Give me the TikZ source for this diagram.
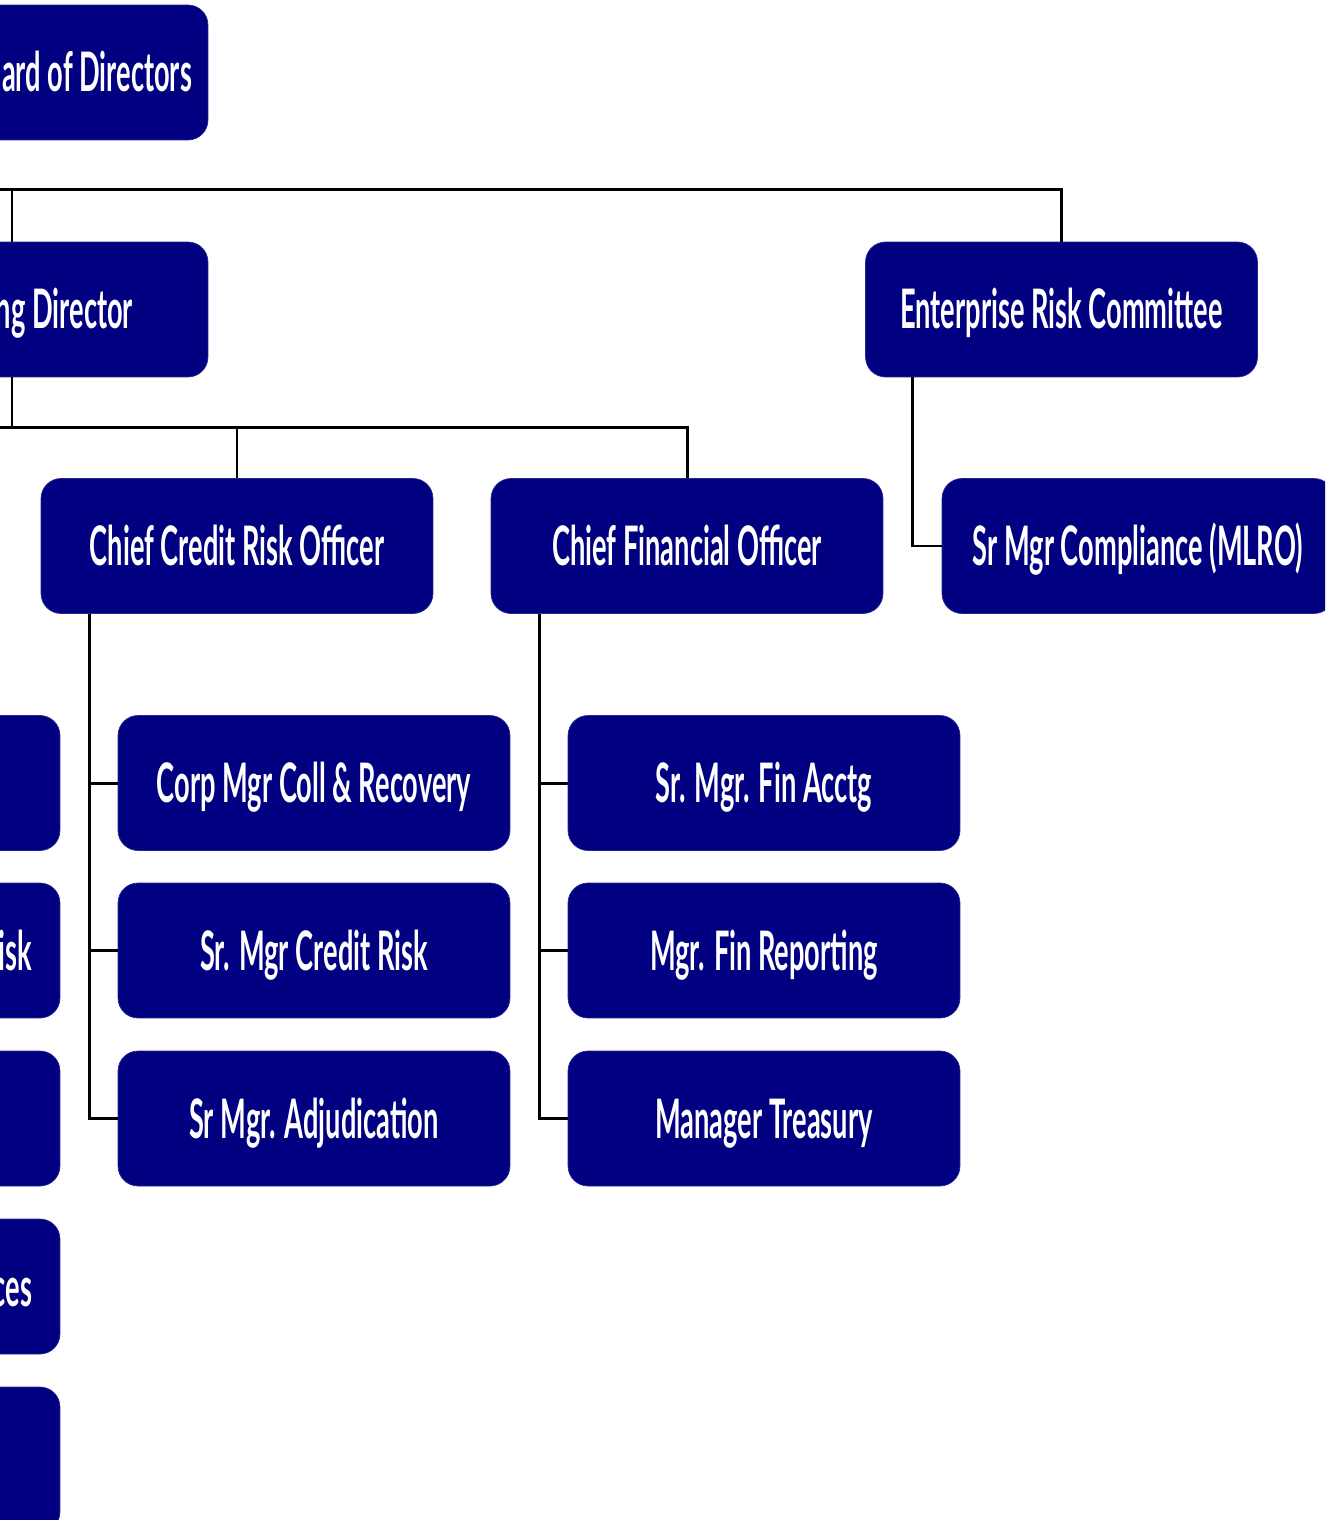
\documentclass[tikz,border=0pt]{standalone}
\usepackage{fontspec}
\newfontfamily\postfont{Lato}[FakeStretch=0.5]
\definecolor{navy}{HTML}{000080}

\begin{document}
\begin{tikzpicture}[x=0.02cm, y=-0.02cm,
  post/.style={fill=navy, draw=navy!85!white, line width=0.4pt, rounded corners=0.4cm,
    minimum width=7.84cm, minimum height=2.7cm, inner sep=0pt, text=white,
    text height=0.78cm, text depth=0pt,
    font=\postfont\bfseries\fontsize{31}{36}\selectfont},
  link/.style={line width=1.7pt, black}]

  \useasboundingbox (0,0) rectangle (1325,1520);
  \clip (0,0) rectangle (1325,1520);

  % top levels
  \node[post] (board) at (12,72.5) {\makebox[7.2cm][r]{ard of Directors}};
  \node[post] (md) at (12,309.5) {\makebox[4.84cm][r]{ng Director}};
  \node[post] (erc) at (1061.5,309.5) {Enterprise Risk Committee};

  \node[post] (ccro) at (237,546) {Chief Credit Risk Officer};
  \node[post] (cfo) at (687,546) {Chief Financial Officer};
  \node[post] (mlro) at (1138,546) {Sr Mgr Compliance (MLRO)};

  % reports
  \node[post] (coll) at (314,783) {Corp Mgr Coll \& Recovery};
  \node[post] (credit) at (314,950.5) {Sr. Mgr Credit Risk};
  \node[post] (adj) at (314,1118.5) {Sr Mgr. Adjudication};

  \node[post] (acctg) at (764,783) {Sr. Mgr. Fin Acctg};
  \node[post] (report) at (764,950.5) {Mgr. Fin Reporting};
  \node[post] (treas) at (764,1118.5) {Manager Treasury};

  % cut-off column on the left
  \node[post] (left1) at (-136,783) {};
  \node[post] (left2) at (-136,950.5) {\makebox[6.72cm][r]{isk}};
  \node[post] (left3) at (-136,1118.5) {};
  \node[post] (left4) at (-136,1286.5) {\makebox[6.72cm][r]{ces}};
  \node[post, minimum height=2.9cm] (left5) at (-136,1459.5) {};

  % connectors
  \draw[link] (md.north) -- ++(0,-52) coordinate (topbus) -| (erc.north);
  \draw[link] (topbus) -- ++(-40,0);
  \draw[link] (md.south) -- ++(0,50) coordinate (midbus) -| (cfo.north);
  \draw[link] (midbus) -- ++(-40,0);
  \draw[link] (ccro.north) -- (ccro.north |- midbus);
  \draw[link] (erc.south west) ++(47,0) |- (mlro.west);

  \foreach \n in {coll,credit,adj}
    \draw[link] (ccro.south west) ++(49,0) |- (\n.west);
  \foreach \n in {acctg,report,treas}
    \draw[link] (cfo.south west) ++(49,0) |- (\n.west);
\end{tikzpicture}
\end{document}
